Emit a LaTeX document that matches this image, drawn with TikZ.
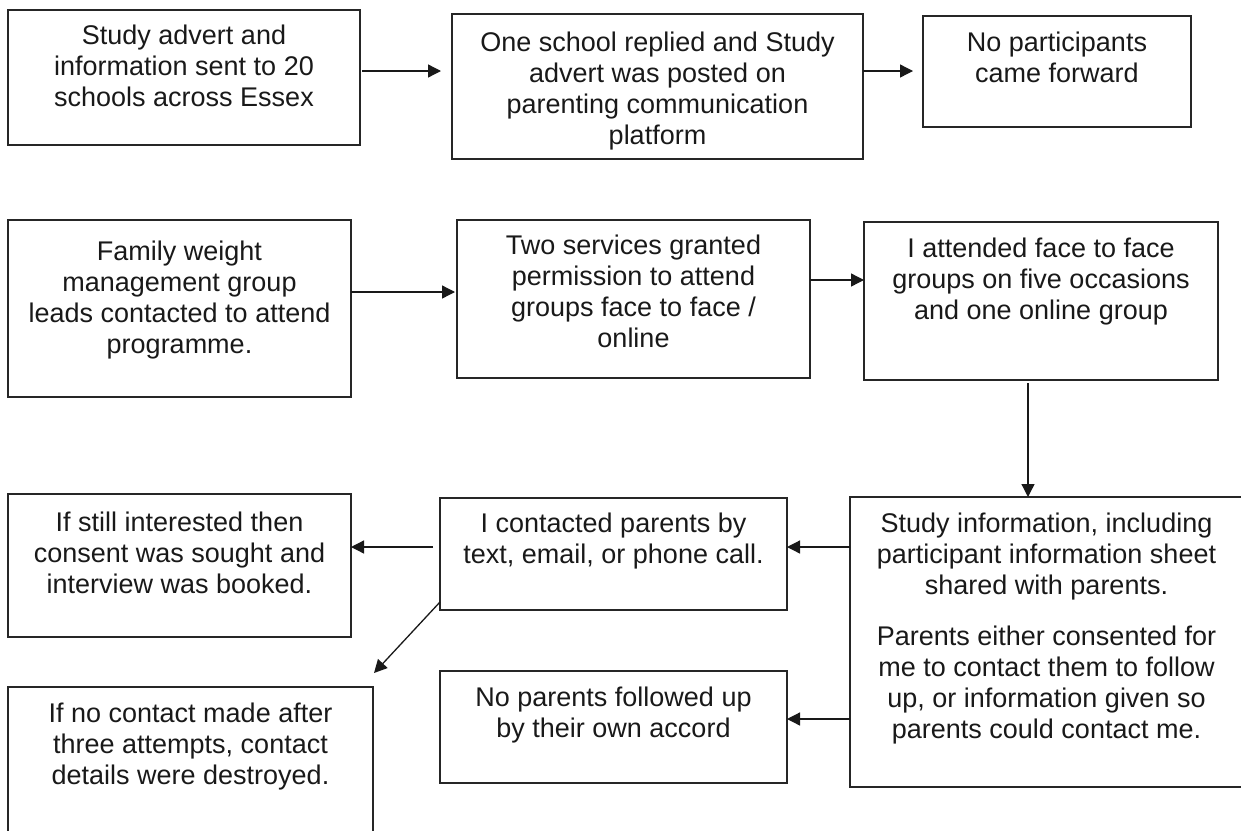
\documentclass[tikz,border=0pt]{standalone}
\usepackage{fontspec}
\setmainfont{Liberation Sans}
\usetikzlibrary{arrows.meta}

% Flow box: name, x1, y1, x2, y2, top padding, text (coordinates in px units)
\newcommand{\flowbox}[7]{%
  \node[fbox] (#1) at (#2,#3)
    {\parbox[t][\dimexpr #5pt-#3pt\relax][t]{\dimexpr #4pt-#2pt\relax}%
      {\centering\vspace*{#6pt}#7\par}};%
}

\begin{document}
\begin{tikzpicture}[x=1pt, y=-1pt,
  fbox/.style={draw=black!85, line width=1.5pt, anchor=north west,
    inner sep=0pt, outer sep=0pt, text=black!90,
    font=\fontsize{27pt}{31pt}\selectfont},
  arr/.style={draw=black!90, line width=1.3pt,
    -{Triangle[length=13pt, width=13pt]}}]
\useasboundingbox (0,0) rectangle (1241,830);
\clip (0,0) rectangle (1241,830);

% first route: schools
\flowbox{b1}{8}{10}{360}{145}{15}{Study advert and\\information sent to 20\\schools across Essex}
\flowbox{b2}{452}{14}{863}{159}{18}{One school replied and Study\\advert was posted on\\parenting communication\\platform}
\flowbox{b3}{923}{16}{1191}{127}{16}{No participants\\came forward}

% second route: weight management groups
\flowbox{b4}{8}{220}{351}{397}{21}{Family weight\\management group\\leads contacted to attend\\programme.}
\flowbox{b5}{457}{220}{810}{378}{15}{Two services granted\\permission to attend\\groups face to face /\\online}
\flowbox{b6}{864}{222}{1218}{380}{16}{I attended face to face\\groups on five occasions\\and one online group}

% follow-up with parents
\flowbox{b9}{850}{497}{1243}{787}{16}{Study information, including\\participant information sheet\\shared with parents.\par\vspace{20pt}Parents either consented for\\me to contact them to follow\\up, or information given so\\parents could contact me.}
\flowbox{b8}{440}{498}{787}{610}{15}{I contacted parents by\\text, email, or phone call.}
\flowbox{b11}{440}{671}{787}{783}{16}{No parents followed up\\by their own accord}
\flowbox{b7}{8}{494}{351}{637}{18}{If still interested then\\consent was sought and\\interview was booked.}
\flowbox{b10}{8}{687}{373}{845}{16}{If no contact made after\\three attempts, contact\\details were destroyed.}

\coordinate (d10) at (374,673);

% connectors
\draw[arr, shorten <=2pt, shorten >=11pt] (b1.east |- 0,71) -- (b2.west |- 0,71);
\draw[arr, shorten >=10pt] (b2.east |- 0,71) -- (b3.west |- 0,71);
\draw[arr, shorten >=2pt] (b4.east |- 0,292) -- (b5.west |- 0,292);
\draw[arr] (b5.east |- 0,280) -- (b6.west |- 0,280);
\draw[arr, shorten <=3pt] (b6.south -| 1028,0) -- (b9.north -| 1028,0);
\draw[arr] (b9.west |- 0,547) -- (b8.east |- 0,547);
\draw[arr] (b9.west |- 0,719) -- (b11.east |- 0,719);
\draw[arr, shorten <=7pt] (b8.west |- 0,547) -- (b7.east |- 0,547);
\draw[arr] (b8.west |- 0,602) -- (d10);
\end{tikzpicture}
\end{document}
